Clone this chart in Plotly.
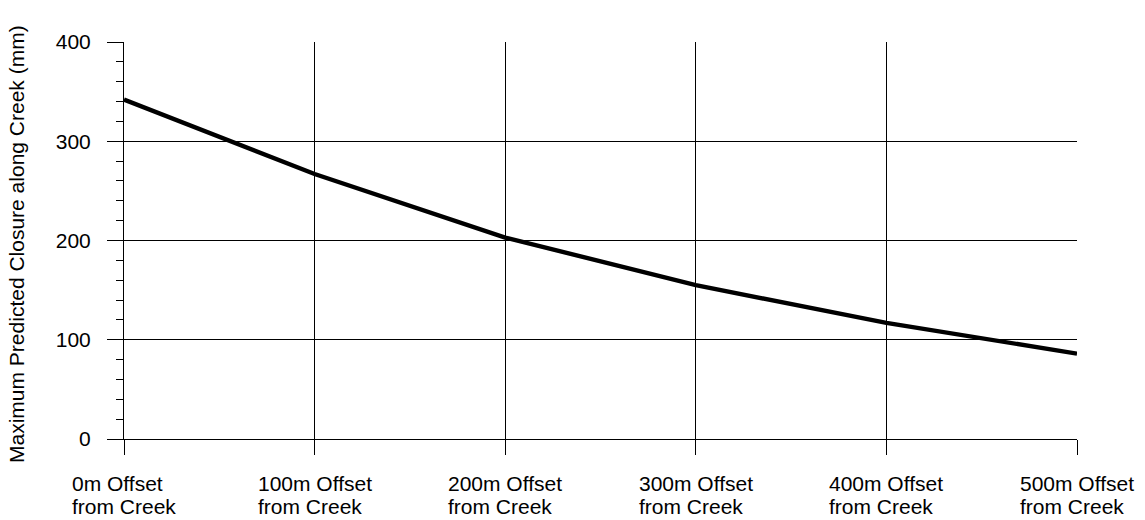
import plotly.graph_objects as go

# Offset positions along the creek and predicted maximum closure (mm)
offset_line1 = ["0m Offset", "100m Offset", "200m Offset", "300m Offset", "400m Offset", "500m Offset"]
offset_line2 = ["from Creek"] * 6
offset_index = [0, 1, 2, 3, 4, 5]
closure_mm = [342, 267, 203, 155, 117, 86]

y_ticks = [0, 100, 200, 300, 400]

FONT = "Liberation Sans, Arial, sans-serif"

fig = go.Figure()
fig.add_trace(go.Scatter(
    x=offset_index, y=closure_mm, mode="lines",
    line=dict(color="black", width=4.4),
    showlegend=False, hoverinfo="skip",
))

fig.update_layout(
    width=1145, height=520,
    margin=dict(l=124, r=68, t=42, b=81),
    paper_bgcolor="white", plot_bgcolor="white",
    font=dict(family=FONT, color="black", size=20),
    xaxis=dict(
        range=[0, 5], tickvals=offset_index, showticklabels=False,
        showgrid=True, gridcolor="black", gridwidth=1,
        ticks="outside", ticklen=15, tickcolor="black", tickwidth=1,
        showline=True, linecolor="black", linewidth=1,
        zeroline=False, fixedrange=True,
    ),
    yaxis=dict(
        range=[0, 400], tickvals=y_ticks,
        showgrid=True, gridcolor="black", gridwidth=1,
        ticks="outside", ticklen=16, tickcolor="black", tickwidth=1,
        minor=dict(dtick=20, ticks="outside", ticklen=7, tickcolor="black", showgrid=False),
        showline=True, linecolor="black", linewidth=1,
        zeroline=False, tickfont=dict(size=21), ticklabelstandoff=12,
        fixedrange=True,
    ),
)

# Category labels: left-aligned two-line blocks centred under each tick,
# with tighter line spacing than the default
for xi, l1, l2 in zip(offset_index, offset_line1, offset_line2):
    fig.add_annotation(
        x=xi, y=0, xref="x", yref="paper",
        text=f'<span style="font-size:21px">{l1}</span><br><span style="font-size:21px">{l2}</span>',
        showarrow=False, xanchor="center", yanchor="top", align="left", yshift=-31,
        font=dict(size=17.7, family=FONT, color="black"),
    )

# Vertical axis title
fig.add_annotation(
    x=-0.1128, y=0.49, xref="paper", yref="paper",
    text="Maximum Predicted Closure along Creek (mm)", showarrow=False,
    textangle=-90, xanchor="center", yanchor="middle",
    font=dict(size=21, family=FONT, color="black"),
)

fig.write_html("out.html")
